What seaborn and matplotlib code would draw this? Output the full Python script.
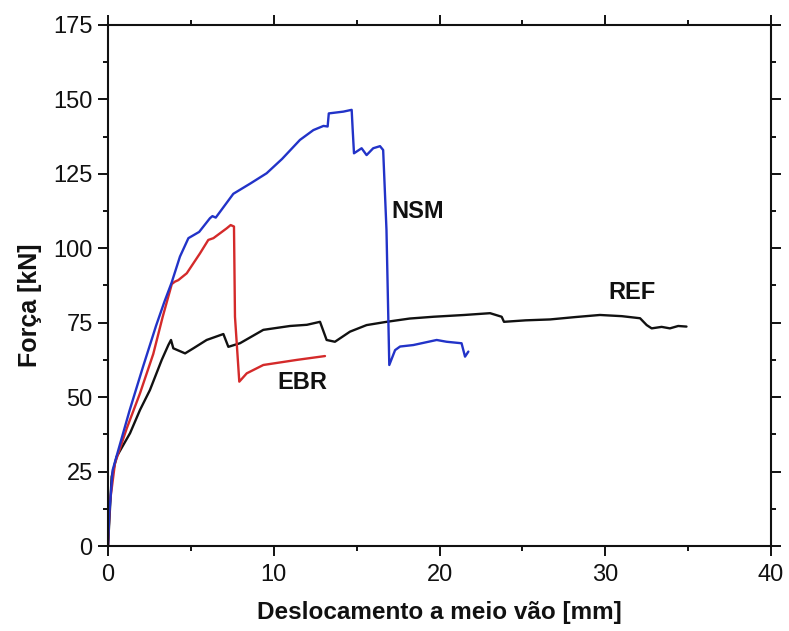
import matplotlib
matplotlib.use("Agg")
import matplotlib.pyplot as plt
import pandas as pd
import seaborn as sns
from matplotlib.ticker import MultipleLocator

# Load-deflection curves of the three beams (displacement in mm, load in kN)
ref_x = [0, 0.22, 0.52, 1.33, 1.93, 2.53, 3.24, 3.64, 3.80, 3.94, 4.65, 5.15, 5.95,
         6.96, 7.26, 7.96, 9.37, 10.98, 12.0, 12.79, 13.19, 13.69, 14.6, 15.6, 16.81,
         18.2, 19.63, 21.5, 23.05, 23.75, 23.89, 25.2, 26.67, 28.2, 29.68, 31.0,
         32.1, 32.5, 32.8, 33.4, 33.9, 34.4, 34.9]
ref_y = [0, 23.3, 30.0, 37.9, 45.7, 52.4, 62.5, 67.5, 69.2, 66.4, 64.7, 66.4, 69.2,
         71.2, 66.9, 68.1, 72.6, 73.9, 74.3, 75.3, 69.2, 68.6, 72.0, 74.2, 75.3,
         76.4, 77.0, 77.6, 78.2, 77.0, 75.3, 75.8, 76.1, 76.9, 77.6, 77.2,
         76.5, 74.2, 73.1, 73.6, 73.1, 73.9, 73.7]

ebr_x = [0, 0.10, 0.42, 1.13, 1.93, 2.73, 3.30, 3.85, 4.04, 4.24, 4.75, 5.55, 6.05,
         6.36, 7.16, 7.40, 7.60, 7.66, 7.92, 8.37, 9.37, 11.38, 13.09]
ebr_y = [0, 14.0, 27.8, 39.5, 51.3, 64.5, 77.0, 88.0, 88.8, 89.3, 91.6, 98.3, 102.8,
         103.4, 106.7, 107.8, 107.3, 77.0, 55.2, 58.0, 60.8, 62.5, 63.8]

nsm_x = [0, 0.08, 0.28, 0.62, 1.30, 2.10, 2.90, 3.40, 3.84, 4.34, 4.85, 5.50, 6.15,
         6.30, 6.50, 7.56, 8.60, 9.57, 10.50, 11.58, 12.39, 13.00, 13.25, 13.32,
         14.20, 14.70, 14.76, 14.84, 15.30, 15.60, 16.00, 16.41, 16.60, 16.80,
         16.97, 17.32, 17.62, 18.42, 19.83, 20.43, 21.33, 21.54, 21.74]
nsm_y = [0, 11.0, 25.5, 32.2, 45.5, 60.0, 74.0, 82.0, 88.5, 97.2, 103.4, 105.5, 110.1,
         110.8, 110.3, 118.3, 121.8, 125.2, 130.0, 136.4, 139.7, 141.1, 140.9, 145.3,
         145.9, 146.5, 140.0, 131.9, 133.6, 131.3, 133.6, 134.3, 133.0, 106.2,
         60.8, 65.8, 67.0, 67.5, 69.2, 68.6, 68.1, 63.6, 65.3]

series_names = ["REF", "EBR", "NSM"]
series_colors = {"REF": "#111111", "EBR": "#d42a2a", "NSM": "#2233c8"}

frames = []
for name, xs, ys in [("REF", ref_x, ref_y), ("EBR", ebr_x, ebr_y), ("NSM", nsm_x, nsm_y)]:
    frames.append(pd.DataFrame({"desl": xs, "forca": ys, "viga": name}))
df = pd.concat(frames, ignore_index=True)

sns.set_theme(style="ticks")
plt.rcParams["font.family"] = ["Liberation Sans", "DejaVu Sans"]

fig = plt.figure(figsize=(7.89, 6.31), dpi=100)
ax = fig.add_axes([0.1369, 0.1347, 0.8403, 0.8257])

sns.lineplot(data=df, x="desl", y="forca", hue="viga", hue_order=series_names,
             palette=series_colors, sort=False, estimator=None, linewidth=1.7,
             legend=False, ax=ax)

# Curve labels
label_kw = dict(fontsize=17, fontweight="bold", color="#111111", ha="center", va="center")
ax.text(18.7, 112.5, "NSM", **label_kw)
ax.text(11.7, 54.8, "EBR", **label_kw)
ax.text(31.6, 85.0, "REF", **label_kw)

ax.set_xlim(0, 40)
ax.set_ylim(0, 175)
ax.xaxis.set_major_locator(MultipleLocator(10))
ax.xaxis.set_minor_locator(MultipleLocator(5))
ax.yaxis.set_major_locator(MultipleLocator(25))
ax.yaxis.set_minor_locator(MultipleLocator(12.5))

for side in ["left", "right", "top", "bottom"]:
    ax.spines[side].set_visible(True)
    ax.spines[side].set_linewidth(1.5)
    ax.spines[side].set_color("#111111")

ax.tick_params(which="both", direction="out", top=True, right=True,
               color="#111111", width=1.4, labelsize=17, labelcolor="#111111")
ax.tick_params(which="major", length=7)
ax.tick_params(which="minor", length=3.5)
ax.tick_params(axis="x", which="major", pad=6)
ax.tick_params(axis="y", which="major", pad=4)

ax.set_xlabel("Deslocamento a meio vão [mm]", fontsize=17.5, fontweight="bold", color="#111111")
ax.set_ylabel("Força [kN]", fontsize=18, fontweight="bold", color="#111111")
ax.xaxis.set_label_coords(0.5, -0.106)
ax.yaxis.set_label_coords(-0.100, 0.463)

fig.savefig("out.png", dpi=100, facecolor="white")
